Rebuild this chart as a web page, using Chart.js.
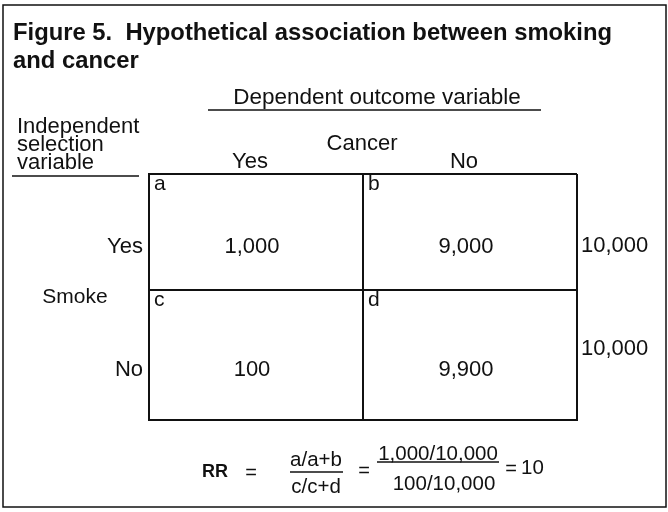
<!DOCTYPE html>
<html>
<head>
<meta charset="utf-8">
<script src="https://cdn.jsdelivr.net/npm/chart.js@4"></script>
<style>
  html, body { margin: 0; padding: 0; background: #fff; }
  canvas { display: block; }
</style>
</head>
<body>
<canvas id="myChart" width="668" height="512"></canvas>
<script>
// data
const titleLines = ['Figure 5.  Hypothetical association between smoking', 'and cancer']
const outcomeName = 'Cancer'
const outcomeLabels = ['Yes', 'No']
const exposureName = 'Smoke'
const exposureLabels = ['Yes', 'No']
const cellLetters = [['a', 'b'], ['c', 'd']]
const smokeYes = [1000, 9000]
const smokeNo = [100, 9900]
const rows = [smokeYes, smokeNo]
const rowTotals = rows.map(r => r[0] + r[1])

const FONT = '"Liberation Sans", Arial, Helvetica, sans-serif'
const INK = '#111'
const rowSplit = 0.943

function fmt(n) { return n.toLocaleString('en-US') }

var points = []
rows.forEach(function (r, i) {
  r.forEach(function (v, j) {
    points.push({ x: j + 0.5, y: i, value: v, letter: cellLetters[i][j] })
  })
})

function rowMid(scale, i) {
  var edges = [0, rowSplit, 2]
  return (scale.getPixelForValue(edges[i]) + scale.getPixelForValue(edges[i + 1])) / 2
}

function text(ctx, s, x, y, size, align, weight) {
  ctx.font = (weight || 'normal') + ' ' + size + 'px ' + FONT
  ctx.textAlign = align || 'center'
  ctx.fillText(s, x, y)
}

function line(ctx, x1, y1, x2, y2, w) {
  ctx.lineWidth = w || 1.5
  ctx.beginPath()
  ctx.moveTo(x1, y1)
  ctx.lineTo(x2, y2)
  ctx.stroke()
}

const figurePlugin = {
  id: 'figureText',
  afterDraw: function (chart) {
    const ctx = chart.ctx
    const xs = chart.scales.x
    const ys = chart.scales.y
    ctx.save()
    ctx.fillStyle = INK
    ctx.strokeStyle = INK
    ctx.textBaseline = 'alphabetic'

    // frame
    ctx.lineWidth = 1.5
    ctx.strokeRect(3, 5, 663, 502)

    // title
    text(ctx, titleLines[0], 13, 40, 23.8, 'left', 'bold')
    text(ctx, titleLines[1], 13, 68, 23.8, 'left', 'bold')

    // column header
    text(ctx, 'Dependent outcome variable', 377, 104, 22.5)
    line(ctx, 208, 110, 541, 110)
    text(ctx, outcomeName, 362, 150, 22)
    outcomeLabels.forEach(function (l, j) {
      var cx = (xs.getPixelForValue(j) + xs.getPixelForValue(j + 1)) / 2
      text(ctx, l, cx - 6, 168, 22)
    })

    // row header
    text(ctx, 'Independent', 17, 133, 22, 'left')
    text(ctx, 'selection', 17, 151, 22, 'left')
    text(ctx, 'variable', 17, 169, 22, 'left')
    line(ctx, 12, 176, 139, 176)
    ctx.textBaseline = 'middle'
    text(ctx, exposureName, 75, 297, 21)
    exposureLabels.forEach(function (l, i) {
      text(ctx, l, 143, rowMid(ys, i) + 15, 22, 'right')
    })

    // cells
    points.forEach(function (p) {
      var x0 = xs.getPixelForValue(p.x - 0.5)
      var cx = xs.getPixelForValue(p.x)
      var top = ys.getPixelForValue(p.y === 0 ? 0 : rowSplit)
      text(ctx, p.letter, x0 + 5, top + 10, 21, 'left')
      text(ctx, fmt(p.value), cx - 4, rowMid(ys, p.y) + 15, 22)
    })

    // row totals
    text(ctx, fmt(rowTotals[0]), xs.right + 4, rowMid(ys, 0) + 14, 22, 'left')
    text(ctx, fmt(rowTotals[1]), xs.right + 4, rowMid(ys, 1) - 6, 22, 'left')

    // relative risk
    var a = smokeYes[0], b = smokeYes[1], c = smokeNo[0], d = smokeNo[1]
    var rr = (a / (a + b)) / (c / (c + d))
    text(ctx, 'RR', 215, 472, 18, 'center', 'bold')
    text(ctx, '=', 251, 473, 20)
    text(ctx, 'a/a+b', 316, 460, 20.5)
    line(ctx, 290, 472, 343, 472)
    text(ctx, 'c/c+d', 316, 487, 20.5)
    text(ctx, '=', 364, 471, 20)
    text(ctx, fmt(a) + '/' + fmt(a + b), 438, 454, 20.5)
    line(ctx, 377, 462, 499, 462)
    text(ctx, fmt(c) + '/' + fmt(c + d), 444, 484, 20.5)
    text(ctx, '=', 511, 469, 20)
    text(ctx, String(rr), 521, 468, 20.5, 'left')
    ctx.restore()
  }
}

const ctx = document.getElementById('myChart')

new Chart(ctx, {
  type: 'scatter',
  data: {
    datasets: [{
      label: 'cells',
      data: points,
      pointRadius: 0
    }]
  },
  options: {
    responsive: false,
    animation: false,
    devicePixelRatio: 1,
    layout: { padding: { left: 149, right: 91, top: 174, bottom: 92 } },
    plugins: {
      legend: { display: false },
      tooltip: { enabled: false }
    },
    scales: {
      x: {
        type: 'linear',
        min: 0,
        max: 2,
        ticks: { display: false, stepSize: 1 },
        grid: { color: INK, lineWidth: 2, drawTicks: false },
        border: { color: INK, width: 2 }
      },
      y: {
        type: 'linear',
        reverse: true,
        min: 0,
        max: 2,
        afterBuildTicks: function (scale) {
          scale.ticks = [{ value: 0 }, { value: rowSplit }, { value: 2 }]
        },
        ticks: { display: false },
        grid: { color: INK, lineWidth: 2, drawTicks: false },
        border: { color: INK, width: 2 }
      }
    }
  },
  plugins: [figurePlugin]
});
</script>
</body>
</html>
